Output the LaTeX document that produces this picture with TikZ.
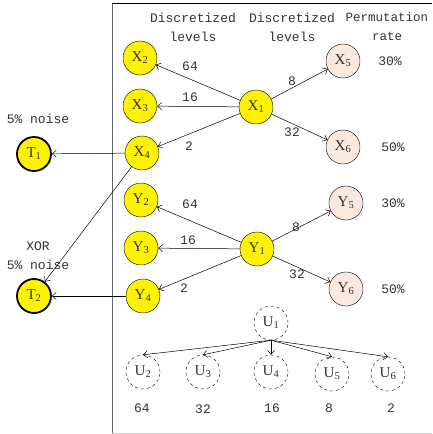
\documentclass[tikz,border=0pt]{standalone}
\usepackage{fontspec}
\setmainfont{Liberation Mono}
\newfontfamily\nodefont{Liberation Serif}
\usetikzlibrary{arrows.meta}
\definecolor{txt}{HTML}{333333}
\definecolor{peach}{HTML}{FBE9DF}
\begin{document}
\begin{tikzpicture}[x=1pt,y=-1pt,
  font=\fontsize{13}{15}\selectfont,
  every node/.style={text=txt},
  vnode/.style={circle,draw=black,minimum size=34pt,inner sep=0pt,font=\nodefont\fontsize{15}{16}\selectfont},
  ynode/.style={vnode,fill=yellow},
  pnode/.style={vnode,fill=peach},
  tnode/.style={vnode,fill=yellow,line width=1.8pt},
  unode/.style={vnode,dashed,fill=white},
  edge/.style={draw=black,-{Straight Barb[length=4pt,width=7pt]},line width=0.5pt},
  lbl/.style={inner sep=0pt},
  hdr/.style={align=center,font=\fontsize{13}{19}\selectfont}]
\useasboundingbox (0,0) rectangle (432,434);
\draw[gray!80!black,line width=0.8pt] (112,434) -- (112,3);
\draw[black,line width=0.6pt] (112,3) -- (432,3);
\draw[gray!40,line width=0.6pt] (112,433) -- (432,433);

\node[hdr] (h1) at (193,27) {Discretized\\levels};
\node[hdr] (h2) at (292,27) {Discretized\\levels};
\node[hdr,font=\fontsize{12.5}{19}\selectfont] (h3) at (387,27) {Permutation\\rate};

\node[ynode] (X2) at (140,58) {X\textsubscript{2}};
\node[ynode] (X3) at (140,106) {X\textsubscript{3}};
\node[ynode] (X4) at (142,153) {X\textsubscript{4}};
\node[ynode] (X1) at (256,107) {X\textsubscript{1}};
\node[pnode] (X5) at (343,61) {X\textsubscript{5}};
\node[pnode] (X6) at (343,147) {X\textsubscript{6}};

\node[ynode] (Y2) at (141,200) {Y\textsubscript{2}};
\node[ynode] (Y3) at (141,248) {Y\textsubscript{3}};
\node[ynode] (Y4) at (143,296) {Y\textsubscript{4}};
\node[ynode] (Y1) at (257,249) {Y\textsubscript{1}};
\node[pnode] (Y5) at (346,203) {Y\textsubscript{5}};
\node[pnode] (Y6) at (346,289) {Y\textsubscript{6}};

\node[tnode] (T1) at (34,154) {T\textsubscript{1}};
\node[tnode] (T2) at (34,296) {T\textsubscript{2}};

\node[unode] (U1) at (271,323) {U\textsubscript{1}};
\node[unode] (U2) at (143,372) {U\textsubscript{2}};
\node[unode] (U3) at (203,372) {U\textsubscript{3}};
\node[unode] (U4) at (271,372) {U\textsubscript{4}};
\node[unode] (U5) at (332,374) {U\textsubscript{5}};
\node[unode] (U6) at (388,374) {U\textsubscript{6}};

\node (r1) at (390,61) {30\%};
\node (r2) at (393,147) {50\%};
\node (r3) at (393,203) {30\%};
\node (r4) at (393,289) {50\%};

\node (n1) at (38,119) {5\% noise};
\node[align=center,font=\fontsize{13}{19}\selectfont] (n2) at (38,256) {XOR\\5\% noise};

\draw[edge] (X1) -- (X2);
\draw[edge] (X1) -- (X3);
\draw[edge] (X1) -- (X4);
\draw[edge] (X1) -- (X5);
\draw[edge] (X1) -- (X6);
\draw[edge] (X4) -- (T1);
\draw[edge] (X4) -- (T2);
\node[lbl] (lx2) at (190,66) {64};
\node[lbl] (lx3) at (190,97) {16};
\node[lbl] (lx4) at (189,146) {2};
\node[lbl] (lx5) at (292,81) {8};
\node[lbl] (lx6) at (292,132) {32};

\draw[edge] (Y1) -- (Y2);
\draw[edge] (Y1) -- (Y3);
\draw[edge] (Y1) -- (Y4);
\draw[edge] (Y1) -- (Y5);
\draw[edge] (Y1) -- (Y6);
\draw[edge] (Y4) -- (T2);
\node[lbl] (ly2) at (190,204) {64};
\node[lbl] (ly3) at (188,240) {16};
\node[lbl] (ly4) at (184,288) {2};
\node[lbl] (ly5) at (296,227) {8};
\node[lbl] (ly6) at (297,274) {32};

\foreach \u in {U2,U3,U4,U5,U6}{
  \draw[edge] (U1.south) -- (\u.north);
}
\node (l2) at (142,408) {64};
\node (l3) at (203,409) {32};
\node (l4) at (272,408) {16};
\node (l5) at (329,408) {8};
\node (l6) at (391,408) {2};
\end{tikzpicture}
\end{document}
